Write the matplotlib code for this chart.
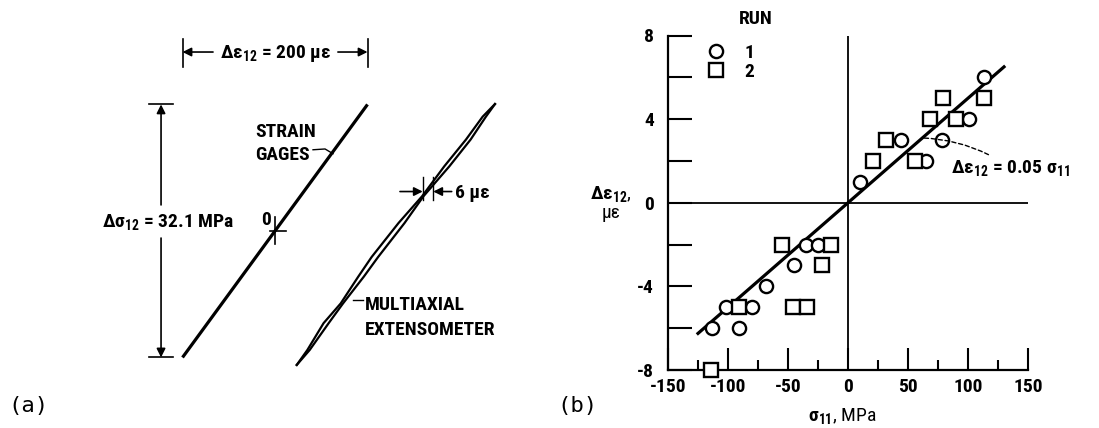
import matplotlib
matplotlib.use("Agg")
import matplotlib.pyplot as plt
from matplotlib import font_manager
from matplotlib.lines import Line2D

# pick a narrow sans if one is installed
installed = {f.name for f in font_manager.fontManager.ttflist}
main_font = 'Liberation Sans'
for cand in ['Liberation Sans Narrow', 'DejaVu Sans Condensed', 'Roboto Condensed', 'Open Sans Condensed']:
    if cand in installed:
        main_font = cand
        break

plt.rcParams['font.family'] = [main_font, 'DejaVu Sans']
plt.rcParams['font.weight'] = 'bold'
plt.rcParams['font.size'] = 14
plt.rcParams['axes.unicode_minus'] = False
plt.rcParams['mathtext.fontset'] = 'custom'
plt.rcParams['mathtext.rm'] = main_font + ':bold'
plt.rcParams['mathtext.it'] = main_font + ':bold'
plt.rcParams['mathtext.bf'] = main_font + ':bold'
plt.rcParams['mathtext.default'] = 'rm'

# (a) stress-strain loops, strain in microstrain, stress in MPa (relative to origin 0)
gage_strain = [-100, 100]
gage_stress = [-16.05, 16.05]
ext_stress = [-17.0, -15.1, -11.7, -9.2, -5.8, -3.3, 1.0, 4.4, 8.2, 11.6, 14.5, 16.1]
ext_strain_load = [23.5, 35.0, 52.5, 71.0, 90.0, 104.5, 133.5, 159.0, 183.0, 206.5, 224.5, 237.8]
ext_strain_unload = [23.5, 37.5, 58.0, 73.5, 96.0, 111.5, 140.0, 160.5, 188.5, 211.5, 228.0, 237.8]
loop_width_ticks = [159.7, 171.1]

# (b) shear strain vs normal stress
run1_stress = [-113, -102, -91, -80, -68, -45, -35, -25, 10, 44, 65, 78, 101, 113]
run1_strain = [-6, -5, -6, -5, -4, -3, -2, -2, 1, 3, 2, 3, 4, 6]
run2_stress = [-114, -91, -46, -34, -55, -22, -14, 21, 32, 56, 68, 79, 90, 113]
run2_strain = [-8, -5, -5, -5, -2, -3, -2, 2, 3, 2, 4, 5, 4, 5]
fit_slope = 0.05
fit_range = [-125, 130]

W, H = 1099, 428
fig = plt.figure(figsize=(W / 100, H / 100), dpi=100)

# ---------------- panel (a) ----------------
axa = fig.add_axes([0, 0, 560 / W, 1])
axa.set_xlim(-297.3, 308.1)
axa.set_ylim(-25.0, 29.3)
axa.axis('off')

lw_dim = 1.2
axa.plot(gage_strain, gage_stress, color='k', lw=2.3, solid_capstyle='butt')
axa.plot(ext_strain_load, ext_stress, color='k', lw=1.6)
axa.plot(ext_strain_unload, ext_stress, color='k', lw=1.6)

# origin cross
axa.plot([-5, 12], [0, 0], color='k', lw=lw_dim)
axa.plot([0, 0], [-1.6, 1.8], color='k', lw=lw_dim)
axa.text(-9.5, 1.4, '0', ha='center', va='center')

# horizontal dimension (strain range)
g0, g1 = min(gage_strain), max(gage_strain)
for gx in (g0, g1):
    axa.plot([gx, gx], [20.8, 24.3], color='k', lw=lw_dim)
arrow = dict(arrowstyle='-|>', lw=lw_dim, color='k', mutation_scale=13, shrinkA=0, shrinkB=0)
axa.annotate('', xy=(g0, 22.7), xytext=(-67, 22.7), arrowprops=arrow)
axa.annotate('', xy=(g1, 22.7), xytext=(68, 22.7), arrowprops=arrow)
axa.text(0, 21.95, r'$\Delta\varepsilon_{12}$ = 200 με', ha='center', va='baseline')

# vertical dimension (stress range)
s0, s1 = min(gage_stress), max(gage_stress)
dx = -123.2
for sy in (s0, s1):
    axa.plot([-136.2, -110.3], [sy, sy], color='k', lw=lw_dim)
axa.annotate('', xy=(dx, s1), xytext=(dx, 3.3), arrowprops=arrow)
axa.annotate('', xy=(dx, s0), xytext=(dx, -0.9), arrowprops=arrow)
axa.text(-116.2, 0.5, r'$\Delta\sigma_{12}$ = 32.1 MPa', ha='center', va='baseline')

# labels
axa.text(-21.6, 11.9, 'STRAIN', ha='left', va='baseline')
axa.text(-21.6, 9.0, 'GAGES', ha='left', va='baseline')
axa.plot([41.1, 54.1, 62.7], [10.3, 10.4, 9.8], color='k', lw=1.0)

axa.plot([84.3, 95.1], [-8.76, -8.76], color='k', lw=1.0)
axa.text(97.3, -10.0, 'MULTIAXIAL', ha='left', va='baseline')
axa.text(97.3, -13.2, 'EXTENSOMETER', ha='left', va='baseline')

for tx in loop_width_ticks:
    axa.plot([tx, tx], [3.9, 6.85], color='k', lw=1.0)
axa.annotate('', xy=(loop_width_ticks[0], 5.0), xytext=(135.1, 5.0), arrowprops=arrow)
axa.annotate('', xy=(loop_width_ticks[1], 5.0), xytext=(191.0, 5.0), arrowprops=arrow)
axa.text(194.6, 4.19, '6 με', ha='left', va='baseline')

fig.text(8 / W, 1 - 406 / H, '(a)', family='DejaVu Sans Mono', weight='normal',
         fontsize=16, ha='left', va='center')
fig.text(557 / W, 1 - 406 / H, '(b)', family='DejaVu Sans Mono', weight='normal',
         fontsize=16, ha='left', va='center')

# ---------------- panel (b) ----------------
axb = fig.add_axes([668 / W, (H - 370) / H, 360 / W, 334.5 / H])
axb.set_xlim(-150, 150)
axb.set_ylim(-8, 8)
for side in ('top', 'right'):
    axb.spines[side].set_visible(False)
for side in ('left', 'bottom'):
    axb.spines[side].set_linewidth(1.6)

axb.set_xticks(range(-150, 151, 50))
axb.set_xticks(range(-125, 126, 50), minor=True)
axb.set_yticks(range(-8, 9, 4))
axb.set_yticks([-6, -2, 2, 6], minor=True)
axb.tick_params(axis='x', which='major', direction='in', length=16, width=1.5, pad=6)
axb.tick_params(axis='x', which='minor', direction='in', length=7, width=1.5)
axb.tick_params(axis='y', which='both', direction='in', length=17, width=1.5, pad=10)

axb.axhline(0, color='k', lw=1.3, zorder=1)
axb.axvline(0, color='k', lw=1.3, zorder=1)

fit_y = [fit_slope * v for v in fit_range]
axb.plot(fit_range, fit_y, color='k', lw=2.3, zorder=2)

mk = dict(ls='none', mfc='white', mec='k', ms=9.5, mew=1.7, clip_on=False, zorder=3)
axb.plot(run1_stress, run1_strain, marker='o', **mk)
axb.plot(run2_stress, run2_strain, marker='s', **mk)

axb.annotate(r'$\Delta\varepsilon_{12}$ = 0.05 $\sigma_{11}$',
             xy=(62, fit_slope * 62), xytext=(86, 1.42),
             ha='left', va='baseline',
             arrowprops=dict(arrowstyle='-', ls=(0, (3, 2)), lw=1.0, color='k',
                             connectionstyle='arc3,rad=0.15', shrinkA=1, shrinkB=0))

handles = [Line2D([], [], marker='o', ls='none', mfc='white', mec='k', ms=9.5, mew=1.7),
           Line2D([], [], marker='s', ls='none', mfc='white', mec='k', ms=9.5, mew=1.7)]
axb.legend(handles, ['1', '2'], loc='upper left', bbox_to_anchor=(0.105, 0.975),
           frameon=False, handlelength=1.0, handletextpad=1.0, borderpad=0,
           borderaxespad=0, labelspacing=0.05)
axb.text(0.243, 1.049, 'RUN', transform=axb.transAxes, ha='center', va='center')

axb.set_ylabel(r'$\Delta\varepsilon_{12}$,' + '\nμε', rotation=0, ha='center', va='center',
               linespacing=1.0)
axb.yaxis.set_label_coords(-0.158, 0.5)
axb.set_xlabel(r'$\sigma_{11}$, MPa', va='center')
axb.xaxis.set_label_coords(0.483, -0.1375)

fig.savefig('out.png', dpi=100)
